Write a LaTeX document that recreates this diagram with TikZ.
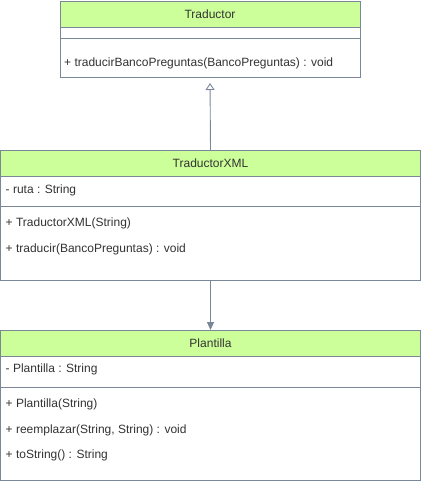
\documentclass[tikz,border=0pt]{standalone}
\usepackage{fontspec}
\setmainfont{Liberation Sans}
\usetikzlibrary{arrows.meta}
\definecolor{umlfill}{HTML}{CCFF99}
\definecolor{umlline}{HTML}{7A8799}
\definecolor{umltext}{HTML}{333333}
\tikzset{
  classhead/.style={draw=umlline, fill=umlfill, text=umltext, line width=0.9pt,
    inner sep=0pt, outer sep=0pt, minimum height=26, font=\fontsize{12}{14}\selectfont},
  compart/.style={draw=umlline, fill=white, line width=0.9pt, inner sep=0pt, outer sep=0pt},
  member/.style={anchor=west, inner sep=0pt, text=umltext, font=\fontsize{12}{14}\selectfont},
  inherit/.style={draw=umlline, line width=0.9pt, -{Triangle[open, width=9pt, length=7pt]}},
  uses/.style={draw=umlline, line width=0.9pt, -{Triangle[width=7pt, length=8pt]}}
}
\begin{document}
\begin{tikzpicture}[x=1pt, y=-1pt]
\useasboundingbox (0,0) rectangle (422,482);

\node[classhead, minimum width=300, anchor=north west] (trad) at (60,1) {Traductor};
\node[compart, minimum width=300, minimum height=11, anchor=north] (tradattr) at (trad.south) {};
\node[compart, minimum width=300, minimum height=39, anchor=north] (tradops) at (tradattr.south) {};
\node[member] (tradop1) at (64,63) {+ traducirBancoPreguntas(BancoPreguntas) : void};

\node[classhead, minimum width=420, anchor=north west] (xml) at (0.5,150) {TraductorXML};
\node[compart, minimum width=420, minimum height=30, anchor=north] (xmlattr) at (xml.south) {};
\node[compart, minimum width=420, minimum height=74, anchor=north] (xmlops) at (xmlattr.south) {};
\node[member] (xmlat1) at (5.5,190) {- ruta : String};
\node[member] (xmlop1) at (5.5,223) {+ TraductorXML(String)};
\node[member] (xmlop2) at (5.5,249) {+ traducir(BancoPreguntas) : void};

\node[classhead, minimum width=420, anchor=north west] (plt) at (0.5,330) {Plantilla};
\node[compart, minimum width=420, minimum height=31, anchor=north] (pltattr) at (plt.south) {};
\node[compart, minimum width=420, minimum height=93, anchor=north] (pltops) at (pltattr.south) {};
\node[member] (pltat1) at (5.5,369) {- Plantilla : String};
\node[member] (pltop1) at (5.5,404) {+ Plantilla(String)};
\node[member] (pltop2) at (5.5,430) {+ reemplazar(String, String) : void};
\node[member] (pltop3) at (5.5,455) {+ toString() : String};

\draw[inherit, shorten >=6pt] (xml.north) -- (tradops.south);
\draw[uses] (xmlops.south) -- (plt.north);
\end{tikzpicture}
\end{document}
